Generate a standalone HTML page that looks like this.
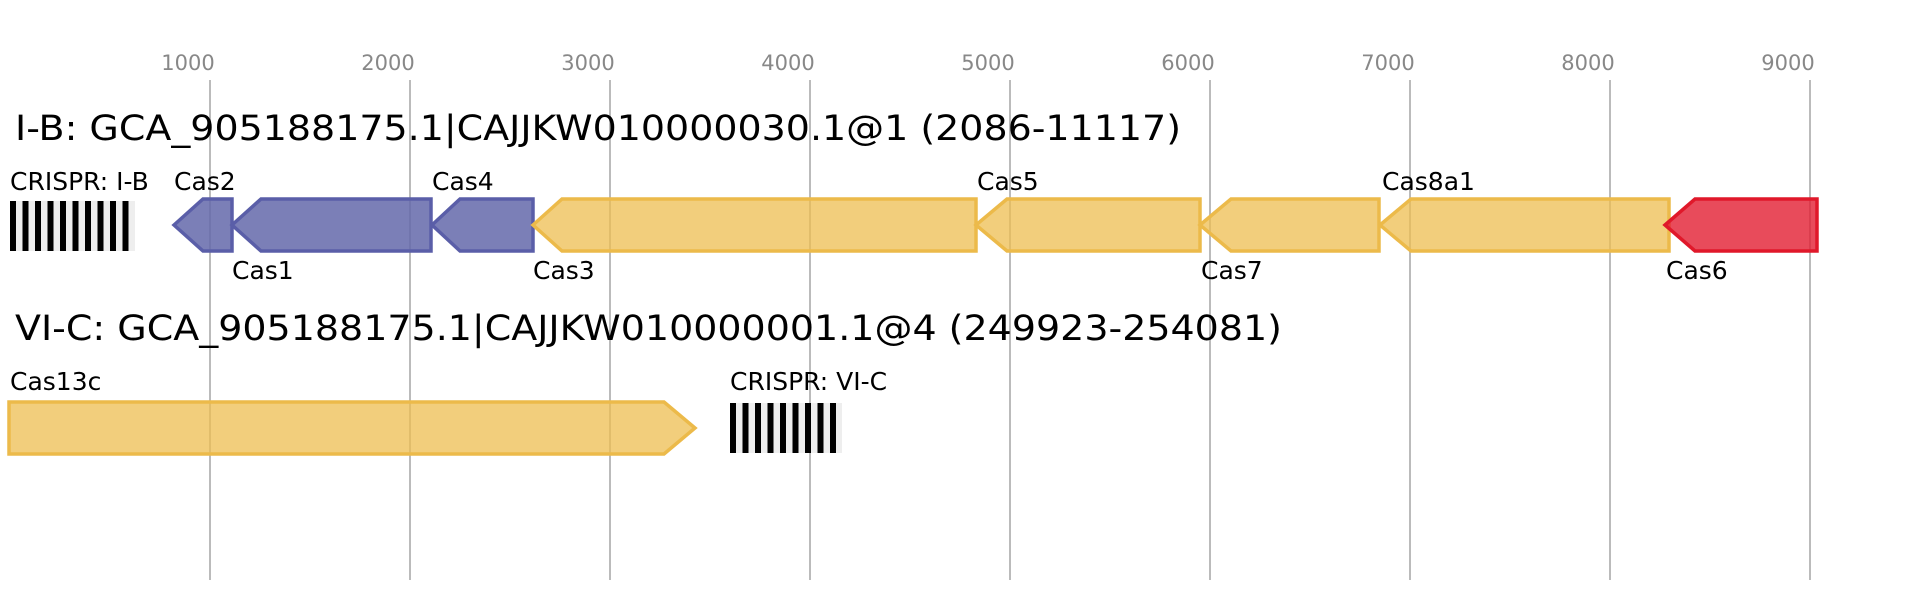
<!DOCTYPE html>
<html><head><meta charset="utf-8"><style>
html,body{margin:0;padding:0;background:#fff;}
svg{display:block;font-family:"DejaVu Sans","Liberation Sans",sans-serif;}
</style></head><body>
<svg width="1906" height="600" viewBox="0 0 1906 600" xmlns="http://www.w3.org/2000/svg">
<g stroke="#bbbbbb" stroke-width="2">
<line x1="210" y1="80" x2="210" y2="580"/>
<line x1="410" y1="80" x2="410" y2="580"/>
<line x1="610" y1="80" x2="610" y2="580"/>
<line x1="810" y1="80" x2="810" y2="580"/>
<line x1="1010" y1="80" x2="1010" y2="580"/>
<line x1="1210" y1="80" x2="1210" y2="580"/>
<line x1="1410" y1="80" x2="1410" y2="580"/>
<line x1="1610" y1="80" x2="1610" y2="580"/>
<line x1="1810" y1="80" x2="1810" y2="580"/>
</g>
<g fill="#888" font-size="21" text-anchor="middle">
<text x="188" y="70">1000</text>
<text x="388" y="70">2000</text>
<text x="588" y="70">3000</text>
<text x="788" y="70">4000</text>
<text x="988" y="70">5000</text>
<text x="1188" y="70">6000</text>
<text x="1388" y="70">7000</text>
<text x="1588" y="70">8000</text>
<text x="1788" y="70">9000</text>
</g>
<text x="15" y="140" font-size="35" fill="#000" textLength="1166" lengthAdjust="spacingAndGlyphs">I-B: GCA_905188175.1|CAJJKW010000030.1@1 (2086-11117)</text>
<text x="15" y="340" font-size="35" fill="#000" textLength="1267" lengthAdjust="spacingAndGlyphs">VI-C: GCA_905188175.1|CAJJKW010000001.1@4 (249923-254081)</text>

<rect x="10" y="201" width="125" height="50" fill="#eeeeee"/>
<g fill="#000">
<rect x="10" y="201" width="6" height="50"/><rect x="22.5" y="201" width="6" height="50"/><rect x="35" y="201" width="6" height="50"/><rect x="47.5" y="201" width="6" height="50"/><rect x="60" y="201" width="6" height="50"/><rect x="72.5" y="201" width="6" height="50"/><rect x="85" y="201" width="6" height="50"/><rect x="97.5" y="201" width="6" height="50"/><rect x="110" y="201" width="6" height="50"/><rect x="122.5" y="201" width="6" height="50"/>
</g>
<rect x="730" y="403" width="112" height="50" fill="#eeeeee"/>
<g fill="#000">
<rect x="730" y="403" width="6" height="50"/><rect x="742.5" y="403" width="6" height="50"/><rect x="755" y="403" width="6" height="50"/><rect x="767.5" y="403" width="6" height="50"/><rect x="780" y="403" width="6" height="50"/><rect x="792.5" y="403" width="6" height="50"/><rect x="805" y="403" width="6" height="50"/><rect x="817.5" y="403" width="6" height="50"/><rect x="830" y="403" width="6" height="50"/>
</g>

<g stroke-width="3.5" stroke-linejoin="miter">
<g fill="rgba(100,104,170,0.85)" stroke="#5a5ea8">
<polygon points="174,225 203,199 232,199 232,251 203,251"/>
<polygon points="232,225 261,199 431,199 431,251 261,251"/>
<polygon points="432,225 460,199 533,199 533,251 460,251"/>
</g>
<g fill="rgba(238,190,80,0.75)" stroke="#ecba4a">
<polygon points="533,225 562,199 976,199 976,251 562,251"/>
<polygon points="976,225 1007,199 1200,199 1200,251 1007,251"/>
<polygon points="1200,225 1231,199 1379,199 1379,251 1231,251"/>
<polygon points="1380,225 1411,199 1669,199 1669,251 1411,251"/>
<polygon points="9,402 664,402 695,428 664,454 9,454"/>
</g>
<g fill="rgba(226,30,50,0.8)" stroke="#e0182a">
<polygon points="1665,225 1695,199 1817,199 1817,251 1695,251"/>
</g>
</g>

<g font-size="25" fill="#000">
<text x="10" y="190">CRISPR: I-B</text>
<text x="174" y="190">Cas2</text>
<text x="432" y="190">Cas4</text>
<text x="977" y="190">Cas5</text>
<text x="1382" y="190">Cas8a1</text>
<text x="232" y="279">Cas1</text>
<text x="533" y="279">Cas3</text>
<text x="1201" y="279">Cas7</text>
<text x="1666" y="279">Cas6</text>
<text x="10" y="390">Cas13c</text>
<text x="730" y="390">CRISPR: VI-C</text>
</g>
</svg>
</body></html>
